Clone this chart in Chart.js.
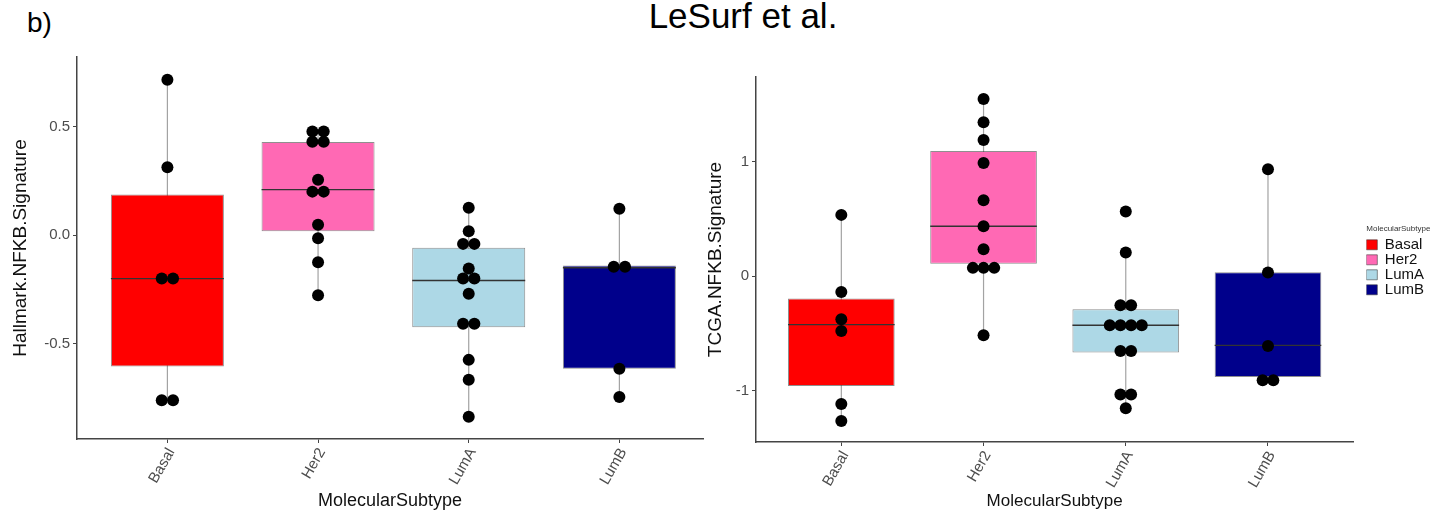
<!DOCTYPE html>
<html lang="en">
<head>
<meta charset="UTF-8">
<title>NFKB signature by molecular subtype</title>
<script src="https://cdn.jsdelivr.net/npm/chart.js@4.4.1/dist/chart.umd.min.js"></script>
<style>
  body { margin: 0; width: 1431px; height: 517px; position: relative; background: #fff; overflow: hidden;
         font-family: "Liberation Sans", Arial, sans-serif; }
  canvas { position: absolute; top: 0; }
  #leftChart { left: 0; }
  #rightChart { left: 695px; }
  .label { position: absolute; white-space: nowrap; color: #000; }
  #panelTag { left: 27px; top: 9px; font-size: 28px; line-height: 28px; }
  #mainTitle { left: 743px; top: -2px; transform: translateX(-50%); font-size: 35px; line-height: 35px; }
</style>
</head>
<body>
<div id="panelTag" class="label">b)</div>
<div id="mainTitle" class="label">LeSurf et al.</div>
<canvas id="leftChart" width="712" height="517"></canvas>
<canvas id="rightChart" width="740" height="517"></canvas>

<script>
// categories + colours
const subtypes = ['Basal', 'Her2', 'LumA', 'LumB'];
const subtypeColors = ['#ff0000', '#ff69b4', '#add8e6', '#00008b'];

// left panel: Hallmark.NFKB.Signature
const hallmarkPoints = [
  [0.717, 0.314, -0.200, -0.200, -0.761, -0.761],
  [0.478, 0.478, 0.431, 0.431, 0.256, 0.201, 0.201, 0.048, -0.014, -0.125, -0.277],
  [0.127, 0.018, -0.040, -0.040, -0.154, -0.200, -0.200, -0.270, -0.408, -0.408, -0.575, -0.667, -0.837],
  [0.122, -0.145, -0.145, -0.616, -0.746]
];
const hallmarkLow    = [-0.761, -0.277, -0.837, -0.746];
const hallmarkQ1     = [-0.606, 0.018, -0.424, -0.616];
const hallmarkMedian = [-0.200, 0.210, -0.209, -0.150];
const hallmarkQ3     = [0.188, 0.430, -0.058, -0.140];
const hallmarkHigh   = [0.717, 0.478, 0.127, 0.122];
const hallmarkTicks  = [-0.5, 0, 0.5];

// right panel: TCGA.NFKB.Signature
const tcgaPoints = [
  [0.535, -0.137, -0.375, -0.477, -1.113, -1.261],
  [1.546, 1.343, 1.188, 0.988, 0.663, 0.436, 0.235, 0.073, 0.073, 0.073, -0.514],
  [0.564, 0.207, -0.253, -0.253, -0.427, -0.427, -0.427, -0.427, -0.651, -0.651, -1.031, -1.031, -1.151],
  [0.933, 0.032, -0.608, -0.907, -0.907]
];
const tcgaLow    = [-1.261, -0.514, -1.151, -0.907];
const tcgaQ1     = [-0.956, 0.110, -0.665, -0.878];
const tcgaMedian = [-0.421, 0.436, -0.427, -0.602];
const tcgaQ3     = [-0.195, 1.092, -0.288, 0.035];
const tcgaHigh   = [0.535, 1.546, 0.207, 0.933];
const tcgaTicks  = [-1, 0, 1];

const BOX_WIDTH = 0.75;   // ggplot default, in category units
const DOT_STEP = 0.075;   // sideways spacing of dots with equal value

Chart.defaults.font.family = "'Liberation Sans', Arial, sans-serif";
Chart.defaults.animation = false;

// equal values sit side by side, centred on the category
function dotData(groups) {
  const out = [];
  groups.forEach((vals, i) => {
    const counts = {}, seen = {};
    vals.forEach(v => counts[v] = (counts[v] || 0) + 1);
    vals.forEach(v => {
      const k = seen[v] = (seen[v] === undefined ? 0 : seen[v] + 1);
      out.push({x: i + 1 + (k - (counts[v] - 1) / 2) * DOT_STEP, y: v});
    });
  });
  return out;
}

function whiskerData(lo, hi) {
  const out = [];
  subtypes.forEach((s, i) => out.push({x: i + 1, y: lo[i]}, {x: i + 1, y: hi[i]}, {x: i + 1, y: null}));
  return out;
}

function medianData(med) {
  const out = [];
  med.forEach((m, i) => out.push({x: i + 1 - BOX_WIDTH / 2, y: m}, {x: i + 1 + BOX_WIDTH / 2, y: m}, {x: i + 1, y: null}));
  return out;
}

function makePanel(id, p) {
  const boxes = subtypes.map((s, i) => ({
    type: 'bar',
    label: s,
    data: [{x: i + 1, y: [p.q1[i], p.q3[i]]}],
    backgroundColor: subtypeColors[i],
    borderColor: 'rgba(51,51,51,0.55)',
    borderWidth: 1,
    borderSkipped: false,
    grouped: false,
    barPercentage: BOX_WIDTH,
    categoryPercentage: 1,
    xAxisID: 'x', yAxisID: 'y',
    order: 2
  }));

  const datasets = boxes.concat([
    {
      type: 'line', label: 'whisker', data: whiskerData(p.low, p.high),
      borderColor: '#a3a3a3', borderWidth: 1.2, pointRadius: 0, spanGaps: false,
      xAxisID: 'x', yAxisID: 'y', order: 3
    },
    {
      type: 'line', label: 'median', data: medianData(p.median),
      borderColor: '#333333', borderWidth: 1.3, pointRadius: 0, spanGaps: false,
      xAxisID: 'x', yAxisID: 'y', order: 1
    },
    {
      type: 'scatter', label: 'dots', data: dotData(p.points),
      backgroundColor: '#000', borderWidth: 0, pointRadius: 6,
      xAxisID: 'x', yAxisID: 'y', order: 0
    }
  ]);

  const scales = {
    x: {
      type: 'linear', bounds: 'data', min: 0.4, max: p.xMax, offset: false,
      afterBuildTicks: a => { a.ticks = subtypes.map((s, i) => ({value: i + 1})); },
      afterFit: a => { a.height = p.xAxisHeight; },
      grid: {display: true, offset: false, drawOnChartArea: false, tickLength: 4, tickColor: '#444'},
      border: {display: true, color: '#444', width: 1.5},
      ticks: {
        autoSkip: false, minRotation: 60, maxRotation: 60, padding: 2, labelOffset: 4,
        color: '#4d4d4d', font: {size: 15},
        callback: v => subtypes[v - 1]
      },
      title: {display: true, text: 'MolecularSubtype', color: '#111',
              font: {size: p.xTitleSize}, padding: {top: 0, bottom: 5}}
    },
    y: {
      type: 'linear', bounds: 'data', min: p.yMin, max: p.yMax,
      afterBuildTicks: a => { a.ticks = p.yTicks.map(v => ({value: v})); },
      afterFit: a => { a.width = p.yAxisWidth; },
      grid: {display: true, drawOnChartArea: false, tickLength: 4, tickColor: '#444'},
      border: {display: true, color: '#444', width: 1.5},
      ticks: {color: '#4d4d4d', font: {size: 15}, padding: 3, callback: p.tickFormat},
      title: {display: true, text: p.yTitle, color: '#111',
              font: {size: 19}, padding: {top: 9, bottom: 0}}
    }
  };
  if (p.legend) {
    // empty spacer between plot and legend
    scales.yGap = {
      type: 'linear', position: 'right', display: true,
      grid: {display: false}, border: {display: false}, ticks: {display: false},
      afterFit: a => { a.width = p.legendGap; }
    };
  }

  return new Chart(document.getElementById(id), {
    type: 'bar',
    data: {datasets: datasets},
    options: {
      responsive: false,
      layout: {padding: p.padding},
      scales: scales,
      plugins: {
        tooltip: {enabled: false},
        legend: {
          display: !!p.legend,
          position: 'right',
          fullSize: false,
          title: {display: true, text: 'MolecularSubtype', color: '#333',
                  font: {size: 8}, position: 'start', padding: {top: 3, bottom: 3}},
          labels: {
            boxWidth: 11, boxHeight: 10, padding: 0, color: '#111', font: {size: 15},
            filter: item => item.datasetIndex < subtypes.length
          }
        }
      }
    }
  });
}

makePanel('leftChart', {
  points: hallmarkPoints, low: hallmarkLow, q1: hallmarkQ1, median: hallmarkMedian,
  q3: hallmarkQ3, high: hallmarkHigh, yTicks: hallmarkTicks,
  yMin: -0.94, yMax: 0.822, xMax: 4.555,
  yTitle: 'Hallmark.NFKB.Signature', xTitleSize: 18,
  tickFormat: v => v.toFixed(1),
  yAxisWidth: 77, xAxisHeight: 78,
  padding: {left: 0, top: 57, right: 9, bottom: 0},
  legend: false
});

makePanel('rightChart', {
  points: tcgaPoints, low: tcgaLow, q1: tcgaQ1, median: tcgaMedian,
  q3: tcgaQ3, high: tcgaHigh, yTicks: tcgaTicks,
  yMin: -1.445, yMax: 1.737, xMax: 4.6,
  yTitle: 'TCGA.NFKB.Signature', xTitleSize: 17,
  tickFormat: v => String(v),
  yAxisWidth: 61, xAxisHeight: 75,
  padding: {left: 0, top: 77, right: 1, bottom: 0},
  legendGap: 13,
  legend: true
});
</script>
</body>
</html>
